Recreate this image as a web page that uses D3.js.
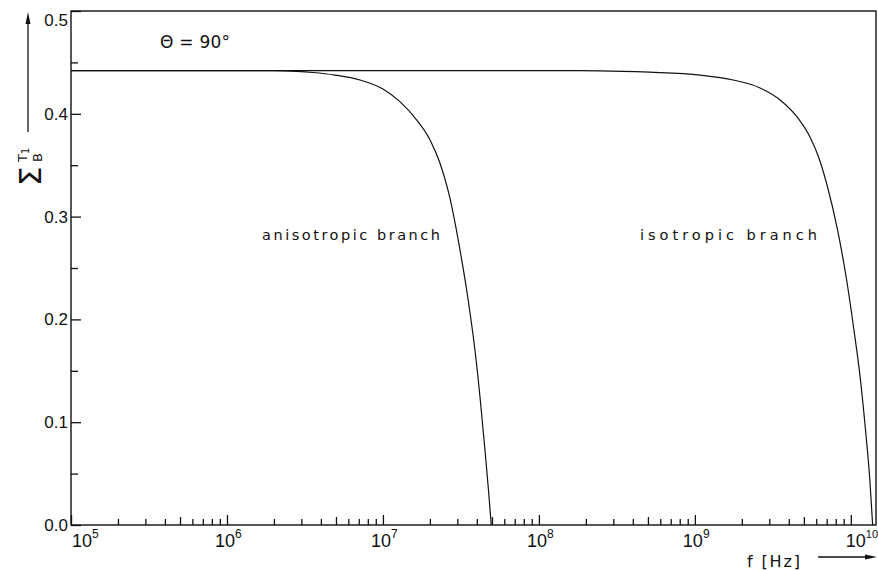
<!DOCTYPE html>
<html>
<head>
<meta charset="utf-8">
<script src="https://cdn.jsdelivr.net/npm/d3@7"></script>
<style>
  html, body { margin: 0; padding: 0; background: #fff; }
  svg { display: block; }
  text { fill: #111; }
</style>
</head>
<body>
<svg id="chart" width="878" height="570"></svg>
<script>
// Frequency (Hz) and Σ_B^T1 values along each branch
const anisoFreq = [1e5, 1e6, 2e6, 2.8e6, 3.56e6, 4.93e6, 7.13e6, 1.00e7, 1.285e7, 1.644e7, 2.005e7, 2.32e7, 2.65e7, 3.12e7, 3.52e7, 3.89e7, 4.21e7, 4.51e7, 4.75e7, 4.95e7];
const anisoVal  = [0.442, 0.442, 0.442, 0.4413, 0.4402, 0.4377, 0.4329, 0.4241, 0.4118, 0.3940, 0.3745, 0.3521, 0.3220, 0.2675, 0.2189, 0.1702, 0.1216, 0.0730, 0.0340, 0.0];

const isoFreq = [1e5, 1e8, 2.45e8, 5.13e8, 1.08e9, 1.76e9, 2.62e9, 3.52e9, 4.52e9, 5.47e9, 6.21e9, 6.98e9, 8.22e9, 9.40e9, 1.047e10, 1.153e10, 1.242e10, 1.324e10, 1.380e10];
const isoVal  = [0.442, 0.442, 0.4418, 0.4405, 0.4377, 0.4329, 0.4251, 0.4134, 0.3969, 0.3774, 0.3580, 0.3327, 0.2870, 0.2383, 0.1897, 0.1411, 0.0924, 0.0438, 0.0];

// Axis ticks
const xDecades = [5, 6, 7, 8, 9, 10];
const yMajor = [0.0, 0.1, 0.2, 0.3, 0.4, 0.5];
const yMinor = [0.05, 0.15, 0.25, 0.35, 0.45];

const svg = d3.select("#chart");
const plotLeft = 71, plotRight = 876, plotTop = 11, plotBottom = 525;

const x = d3.scaleLog().domain([1e5, 1.45e10]).range([plotLeft, plotRight]);
const y = d3.scaleLinear().domain([0, 0.5]).range([plotBottom, plotTop]);

const tickFont = "'Liberation Sans', Arial, sans-serif";
const letterFont = "'DejaVu Sans', 'Liberation Sans', sans-serif";

// Minor x ticks: 2..9 within each decade, 5× slightly longer
const minor = [], mid = [];
xDecades.slice(0, -1).forEach(e => {
  for (let k = 2; k <= 9; k++) {
    const v = k * Math.pow(10, e);
    if (k === 5) mid.push(v); else minor.push(v);
  }
});
const majors = xDecades.map(e => Math.pow(10, e));

function xAxis(values, len) {
  const g = svg.append("g").attr("transform", `translate(0,${plotBottom})`)
    .call(d3.axisBottom(x).tickValues(values).tickSize(-len).tickFormat(""));
  g.select(".domain").remove();
  g.selectAll("line").attr("stroke", "#111").attr("stroke-width", 1.3);
}
xAxis(minor, 6);
xAxis(mid, 8);
xAxis(majors, 10);

// Decade labels 10^n
majors.forEach((v, i) => {
  const e = xDecades[i];
  const last = i === majors.length - 1;
  const dx = i === 0 ? 1 : (last ? -5 : -12);
  const t = svg.append("text")
    .attr("x", x(v) + dx).attr("y", 547)
    .attr("font-family", tickFont).attr("font-size", 18);
  t.append("tspan").text("10");
  t.append("tspan").attr("dy", -9).attr("font-size", last ? 11 : 12).text(String(e));
});

// Y axis: inward ticks with one-decimal labels
function yAxis(values, len, withLabels) {
  const ax = d3.axisLeft(y).tickValues(values).tickSize(-len).tickPadding(3);
  ax.tickFormat(withLabels ? d3.format(".1f") : "");
  const g = svg.append("g").attr("transform", `translate(${plotLeft},0)`).call(ax);
  g.select(".domain").remove();
  g.selectAll("line").attr("stroke", "#111").attr("stroke-width", 1.3);
  g.selectAll("text").attr("font-family", tickFont).attr("font-size", 17).attr("fill", "#111");
  return g;
}
yAxis(yMinor, 7, false);
const gy = yAxis(yMajor, 10, true);
// keep the top label inside the window
gy.selectAll(".tick").filter(d => d === 0.5).select("text").attr("dy", "0.85em");

// Frame
svg.append("rect")
  .attr("x", plotLeft).attr("y", plotTop)
  .attr("width", plotRight - plotLeft).attr("height", plotBottom - plotTop)
  .attr("fill", "none").attr("stroke", "#111").attr("stroke-width", 1.4);

// Curves
const line = d3.line().x(d => x(d[0])).y(d => y(d[1])).curve(d3.curveMonotoneX);
[[anisoFreq, anisoVal], [isoFreq, isoVal]].forEach(([f, v]) => {
  svg.append("path")
    .attr("d", line(d3.zip(f, v)))
    .attr("fill", "none").attr("stroke", "#111").attr("stroke-width", 1.2);
});

// Annotations
svg.append("text").attr("x", 160).attr("y", 48)
  .attr("font-family", letterFont).attr("font-size", 17)
  .attr("textLength", 70).attr("lengthAdjust", "spacing")
  .text("Θ = 90°");

svg.append("text").attr("x", 262).attr("y", 240)
  .attr("font-family", letterFont).attr("font-size", 14.5)
  .attr("textLength", 178).attr("lengthAdjust", "spacing")
  .text("anisotropic  branch");

svg.append("text").attr("x", 640).attr("y", 240)
  .attr("font-family", letterFont).attr("font-size", 14.5)
  .attr("textLength", 177).attr("lengthAdjust", "spacing")
  .text("isotropic  branch");

// Y axis title Σ_B^T1 with upward arrow
const yt = svg.append("g").attr("transform", "translate(41,186) rotate(-90)");
yt.append("text").attr("x", 0).attr("y", 0)
  .attr("font-family", letterFont).attr("font-size", 31).text("Σ");
yt.append("text").attr("x", 24).attr("y", 1)
  .attr("font-family", letterFont).attr("font-size", 13).text("B");
const sup = yt.append("text").attr("x", 24).attr("y", -14)
  .attr("font-family", letterFont).attr("font-size", 13);
sup.append("tspan").text("T");
sup.append("tspan").attr("font-size", 10).attr("dy", 2).text("1");

svg.append("line").attr("x1", 28).attr("x2", 28).attr("y1", 132).attr("y2", 22)
  .attr("stroke", "#111").attr("stroke-width", 1.3);
svg.append("path").attr("d", "M28,12 L25.5,24 L30.5,24 Z").attr("fill", "#111");

// X axis title with rightward arrow
svg.append("text").attr("x", 747).attr("y", 567)
  .attr("font-family", letterFont).attr("font-size", 16)
  .attr("textLength", 53).attr("lengthAdjust", "spacing")
  .text("f [Hz]");
svg.append("line").attr("x1", 818).attr("x2", 866).attr("y1", 557).attr("y2", 557)
  .attr("stroke", "#111").attr("stroke-width", 1.3);
svg.append("path").attr("d", "M877,557 L865,554.5 L865,559.5 Z").attr("fill", "#111");
</script>
</body>
</html>
